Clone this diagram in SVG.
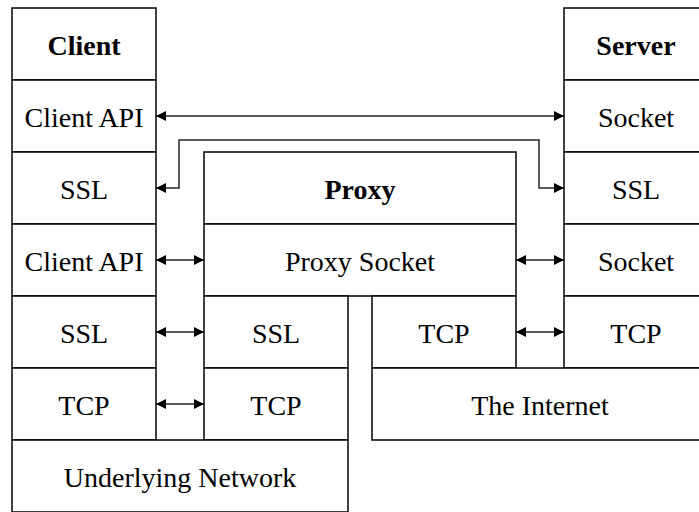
<svg xmlns="http://www.w3.org/2000/svg" width="699" height="512" viewBox="0 0 699 512">
<style>
.b{fill:#fff;stroke:#000;stroke-width:1.5}
.t{font-family:"Liberation Serif","Times New Roman",serif;font-size:28px;text-anchor:middle;fill:#000}
.h{font-weight:bold}
.c{fill:none;stroke:#222;stroke-width:1.5}
</style>
<defs>
<marker id="a" viewBox="0 0 10 10" refX="10" refY="5" markerWidth="10" markerHeight="10" markerUnits="userSpaceOnUse" orient="auto-start-reverse">
<path d="M0,0 L10,5 L0,10 z" fill="#000"/>
</marker>
</defs>
<rect width="699" height="512" fill="#fff"/>
<g id="client">
<rect class="b" x="12" y="8" width="144" height="72"/><text class="t h" x="84" y="55">Client</text>
<rect class="b" x="12" y="80" width="144" height="72"/><text class="t" x="84" y="127">Client API</text>
<rect class="b" x="12" y="152" width="144" height="72"/><text class="t" x="84" y="199">SSL</text>
<rect class="b" x="12" y="224" width="144" height="72"/><text class="t" x="84" y="271">Client API</text>
<rect class="b" x="12" y="296" width="144" height="72"/><text class="t" x="84" y="343">SSL</text>
<rect class="b" x="12" y="368" width="144" height="72"/><text class="t" x="84" y="415">TCP</text>
</g>
<g id="server">
<rect class="b" x="564" y="8" width="144" height="72"/><text class="t h" x="636" y="55">Server</text>
<rect class="b" x="564" y="80" width="144" height="72"/><text class="t" x="636" y="127">Socket</text>
<rect class="b" x="564" y="152" width="144" height="72"/><text class="t" x="636" y="199">SSL</text>
<rect class="b" x="564" y="224" width="144" height="72"/><text class="t" x="636" y="271">Socket</text>
<rect class="b" x="564" y="296" width="144" height="72"/><text class="t" x="636" y="343">TCP</text>
</g>
<g id="proxy">
<rect class="b" x="204" y="152" width="312" height="72"/><text class="t h" x="360" y="199">Proxy</text>
<rect class="b" x="204" y="224" width="312" height="72"/><text class="t" x="360" y="271">Proxy Socket</text>
<rect class="b" x="204" y="296" width="144" height="72"/><text class="t" x="276" y="343">SSL</text>
<rect class="b" x="204" y="368" width="144" height="72"/><text class="t" x="276" y="415">TCP</text>
<rect class="b" x="372" y="296" width="144" height="72"/><text class="t" x="444" y="343">TCP</text>
</g>
<g id="internet">
<rect class="b" x="372" y="368" width="336" height="72"/><text class="t" x="540" y="415">The Internet</text>
</g>
<g id="network">
<rect class="b" x="12" y="440" width="336" height="72"/><text class="t" x="180" y="487">Underlying Network</text>
</g>
<g id="connectors">
<line class="c" x1="156" y1="116" x2="564" y2="116" marker-start="url(#a)" marker-end="url(#a)"/>
<polyline class="c" points="156,188 179,188 179,140 539,140 539,188 564,188" marker-start="url(#a)" marker-end="url(#a)"/>
<line class="c" x1="156" y1="260" x2="204" y2="260" marker-start="url(#a)" marker-end="url(#a)"/>
<line class="c" x1="156" y1="332" x2="204" y2="332" marker-start="url(#a)" marker-end="url(#a)"/>
<line class="c" x1="156" y1="404" x2="204" y2="404" marker-start="url(#a)" marker-end="url(#a)"/>
<line class="c" x1="516" y1="260" x2="564" y2="260" marker-start="url(#a)" marker-end="url(#a)"/>
<line class="c" x1="516" y1="332" x2="564" y2="332" marker-start="url(#a)" marker-end="url(#a)"/>
</g>
</svg>
